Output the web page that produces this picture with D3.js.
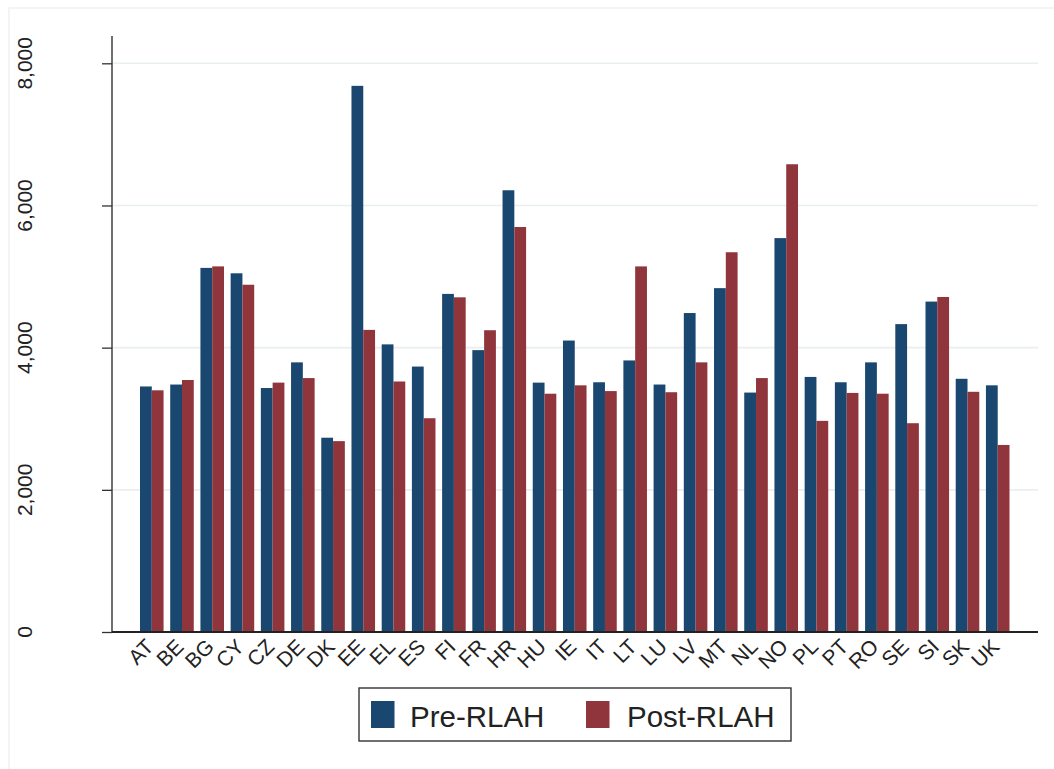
<!DOCTYPE html>
<html>
<head>
<meta charset="utf-8">
<script src="https://cdn.jsdelivr.net/npm/d3@7"></script>
<style>
  html, body { margin: 0; padding: 0; background: #ffffff; }
  svg { display: block; font-family: "Liberation Sans", Arial, Helvetica, sans-serif; }
</style>
</head>
<body>
<svg id="chart" width="1054" height="769"></svg>
<script>
const countries = ["AT","BE","BG","CY","CZ","DE","DK","EE","EL","ES","FI","FR","HR","HU","IE","IT","LT","LU","LV","MT","NL","NO","PL","PT","RO","SE","SI","SK","UK"];
const preRLAH  = [3454,3481,5122,5046,3432,3793,2733,7683,4046,3734,4756,3965,6214,3508,4100,3513,3820,3481,4487,4837,3368,5541,3588,3513,3793,4331,4648,3562,3470];
const postRLAH = [3400,3545,5143,4885,3508,3572,2685,4250,3524,3007,4708,4245,5697,3352,3470,3389,5143,3373,3793,5342,3572,6580,2970,3363,3352,2937,4713,3379,2631];
const seriesNames = ["Pre-RLAH","Post-RLAH"];
const seriesColors = ["#1a476f","#90353b"];
const yTicks = [0,2000,4000,6000,8000];

const svg = d3.select("#chart");
const W = 1054, H = 769;

// outer graph region border
svg.append("rect").attr("x",9).attr("y",8).attr("width",W+20).attr("height",H+20)
  .attr("fill","#ffffff").attr("stroke","#e8eeee").attr("stroke-width",1.2);

const plotLeft = 112, plotRight = 1038, plotTop = 36, plotBottom = 632;

const y = d3.scaleLinear().domain([0,8000]).range([plotBottom, 63.3]);
const x0 = d3.scaleBand().domain(countries).range([140, 1009.5]).paddingInner(0.22).paddingOuter(0);
const x1 = d3.scaleBand().domain(seriesNames).range([0, x0.bandwidth()]).padding(0);

// gridlines
svg.append("g").selectAll("line").data(yTicks.filter(d => d > 0)).join("line")
  .attr("x1", plotLeft).attr("x2", plotRight)
  .attr("y1", d => y(d)).attr("y2", d => y(d))
  .attr("stroke","#e9efef").attr("stroke-width",1.6);

// bars
const rows = countries.map((c,i) => ({c, vals:[preRLAH[i], postRLAH[i]]}));
const g = svg.append("g");
g.selectAll("g").data(rows).join("g")
  .attr("transform", d => `translate(${x0(d.c)},0)`)
  .selectAll("rect").data(d => d.vals.map((v,j) => ({name: seriesNames[j], v, j})))
  .join("rect")
  .attr("x", d => x1(d.name)).attr("width", x1.bandwidth())
  .attr("y", d => y(d.v)).attr("height", d => y(0) - y(d.v))
  .attr("fill", d => seriesColors[d.j]);

// y axis
const yAxis = d3.axisLeft(y).tickValues(yTicks).tickSize(10).tickFormat(d3.format(","));
const ya = svg.append("g").attr("transform",`translate(${plotLeft},0)`).call(yAxis);
ya.select(".domain").remove();
ya.selectAll(".tick line").attr("stroke","#333").attr("stroke-width",1.3);
ya.selectAll(".tick text").remove();
svg.append("line").attr("x1",plotLeft).attr("x2",plotLeft).attr("y1",plotTop).attr("y2",plotBottom)
  .attr("stroke","#333").attr("stroke-width",1.4);
svg.append("g").selectAll("text").data(yTicks).join("text")
  .attr("transform", d => `translate(32,${y(d)}) rotate(-90)`)
  .attr("text-anchor","middle")
  .attr("font-size",21).attr("fill","#222")
  .text(d => d3.format(",")(d));

// x axis
const xAxis = d3.axisBottom(x0).tickSize(0).tickSizeOuter(0);
const xa = svg.append("g").attr("transform",`translate(0,${plotBottom})`).call(xAxis);
xa.select(".domain").remove();
xa.selectAll(".tick text")
  .attr("font-size",21).attr("fill","#222")
  .attr("font-family",'"Liberation Sans", Arial, sans-serif')
  .attr("text-anchor","end")
  .attr("dy",null).attr("y",null)
  .attr("transform","translate(3,16) rotate(-45)");
svg.append("line").attr("x1",plotLeft).attr("x2",plotRight).attr("y1",plotBottom).attr("y2",plotBottom)
  .attr("stroke","#222").attr("stroke-width",2);

// legend
const lg = svg.append("g");
lg.append("rect").attr("x",359).attr("y",688).attr("width",432).attr("height",53)
  .attr("fill","#fff").attr("stroke","#333").attr("stroke-width",1.4);
const legX = [371, 586];
const legTX = [410, 627];
seriesNames.forEach((n,i) => {
  lg.append("rect").attr("x",legX[i]).attr("y",701).attr("width",23.5).attr("height",27).attr("fill",seriesColors[i]);
  lg.append("text").attr("x",legTX[i]).attr("y",727).attr("font-size",29.5).attr("fill","#222").text(n);
});
</script>
</body>
</html>
